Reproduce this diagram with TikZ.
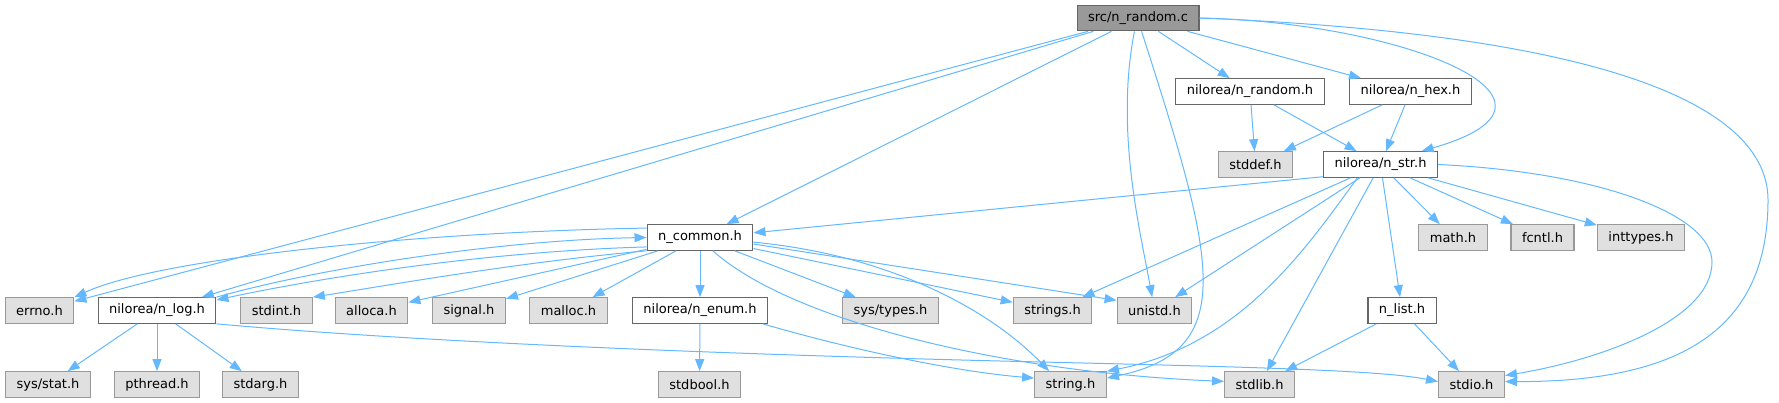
\documentclass[tikz,border=0pt]{standalone}
\usepackage{fontspec}
\setmainfont{DejaVu Sans}
\usetikzlibrary{arrows.meta}
\definecolor{inclblue}{HTML}{63B8FF}
\definecolor{boxline}{HTML}{666666}
\definecolor{sysline}{HTML}{999999}
\definecolor{sysfill}{HTML}{E0E0E0}
\tikzset{
  file/.style={draw=boxline, fill=white, line width=1.2pt, minimum height=25.5pt,
    inner xsep=11pt, inner ysep=0pt},
  sysfile/.style={file, draw=sysline, fill=sysfill},
  rootfile/.style={file, fill=sysline},
  incl/.style={draw=inclblue, line width=1pt, -{Triangle[length=12pt, width=9pt]}}
}
\begin{document}
\begin{tikzpicture}[x=1pt, y=-1pt, font=\fontsize{13}{15}\selectfont]
\useasboundingbox (0,0) rectangle (1779,403);
\node[rootfile] (root) at (1138,18) {src/n\_random.c};
\node[file] (nrand) at (1250,91.5) {nilorea/n\_random.h};
\node[file] (nhex) at (1410.5,91.5) {nilorea/n\_hex.h};
\node[sysfile] (stddef) at (1255.5,164.5) {stddef.h};
\node[file] (nstr) at (1380.5,164.5) {nilorea/n\_str.h};
\node[file] (ncommon) at (700,237.5) {n\_common.h};
\node[sysfile] (mathh) at (1453,237.5) {math.h};
\node[sysfile] (fcntl) at (1542.5,237.5) {fcntl.h};
\node[sysfile] (inttypes) at (1641,237.5) {inttypes.h};
\node[sysfile] (errno) at (39.5,310.5) {errno.h};
\node[file] (nlog) at (157,310.5) {nilorea/n\_log.h};
\node[sysfile] (stdint) at (276.5,310.5) {stdint.h};
\node[sysfile] (alloca) at (371.5,310.5) {alloca.h};
\node[sysfile] (signal) at (469,310.5) {signal.h};
\node[sysfile] (malloc) at (568.5,310.5) {malloc.h};
\node[file] (nenum) at (700,310.5) {nilorea/n\_enum.h};
\node[sysfile] (systypes) at (890.5,310.5) {sys/types.h};
\node[sysfile] (strings) at (1052.5,310.5) {strings.h};
\node[sysfile] (unistd) at (1154.5,310.5) {unistd.h};
\node[file] (nlist) at (1402,310.5) {n\_list.h};
\node[sysfile] (sysstat) at (48,384.5) {sys/stat.h};
\node[sysfile] (pthread) at (157,384.5) {pthread.h};
\node[sysfile] (stdarg) at (260.5,384.5) {stdarg.h};
\node[sysfile] (stdbool) at (699.5,384.5) {stdbool.h};
\node[sysfile] (stringh) at (1070.5,384.5) {string.h};
\node[sysfile] (stdlib) at (1259.5,384.5) {stdlib.h};
\node[sysfile] (stdio) at (1471.5,384.5) {stdio.h};

\foreach \a/\b in {root/nrand, root/nhex, root/ncommon, root/nlog, root/errno,
  nrand/stddef, nrand/nstr, nhex/stddef, nhex/nstr,
  nstr/strings, nstr/unistd, nstr/stdlib, nstr/nlist, nstr/mathh, nstr/fcntl, nstr/inttypes,
  ncommon/alloca, ncommon/signal, ncommon/malloc, ncommon/nenum, ncommon/systypes, ncommon/strings,
  nlog/sysstat, nlog/pthread, nlog/stdarg, nenum/stdbool, nlist/stdlib, nlist/stdio}
{
\draw[incl] (\a) -- (\b);
}

\draw[incl] (root.-105) .. controls (1115,130) and (1140,230) .. (unistd.100);
\draw[incl] (root.-75) .. controls (1215,260) and (1240,350) .. (stringh.10);
\draw[incl] (root.east) .. controls (1400,22) and (1600,100) .. (nstr.18);
\draw[incl] (root.east) .. controls (1620,35) and (1768,110) .. (1768,200)
  .. controls (1768,330) and (1680,382) .. (stdio.5);
\draw[incl] (nstr.-168) -- (ncommon.5);
\draw[incl] (nstr.-150) .. controls (1305,250) and (1240,345) .. (stringh.20);
\draw[incl] (nstr.east) .. controls (1600,172) and (1712,215) .. (1712,262)
  .. controls (1712,320) and (1600,360) .. (stdio.15);
\draw[incl] (ncommon.170) .. controls (420,232) and (160,258) .. (errno.north east);
\draw[incl] (ncommon.190) .. controls (470,252) and (300,282) .. (nlog.10);
\draw[incl] (nlog.north east) .. controls (320,268) and (500,240) .. (ncommon.west);
\draw[incl] (ncommon.south west) .. controls (520,262) and (390,285) .. (stdint.north east);
\draw[incl] (ncommon.-7) -- (unistd.165);
\draw[incl] (ncommon.-5) .. controls (890,255) and (990,310) .. (stringh.148);
\draw[incl] (ncommon.-46) .. controls (790,320) and (1000,372) .. (stdlib.175);
\draw[incl] (nenum.-12) .. controls (860,352) and (960,372) .. (stringh.170);
\draw[incl] (nlog.south east) .. controls (450,345) and (800,356) .. (1000,361)
  .. controls (1250,367) and (1380,370) .. (stdio.175);
\end{tikzpicture}
\end{document}
